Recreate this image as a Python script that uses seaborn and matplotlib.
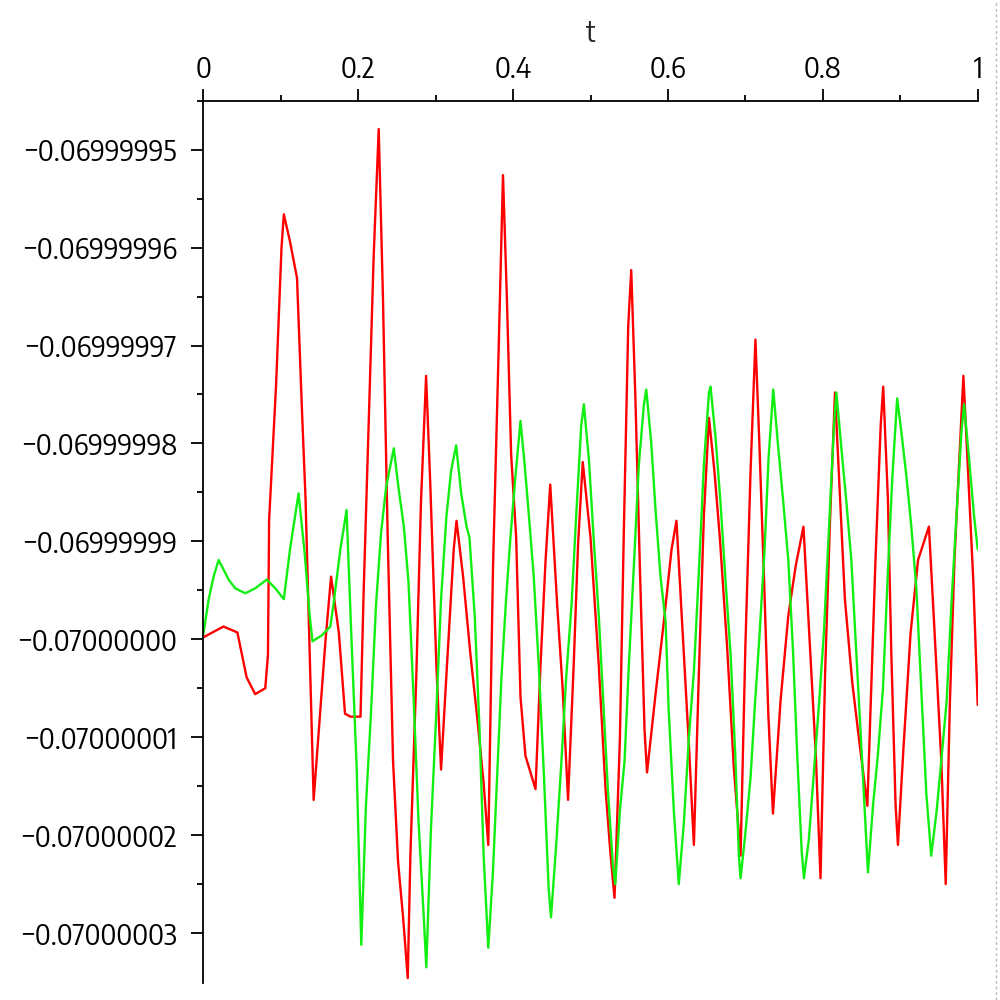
import numpy as np
import pandas as pd
import matplotlib
matplotlib.use("Agg")
import matplotlib.pyplot as plt
import matplotlib.ticker as mticker
from matplotlib import font_manager
from matplotlib.lines import Line2D
import seaborn as sns

# values are read as offsets from BASE, in units of SCALE
BASE = -0.07
SCALE = 1e-8

red_t = [0.0, 0.026, 0.044, 0.056, 0.067, 0.080, 0.0835, 0.085, 0.094, 0.101, 0.104, 0.112, 0.121, 0.1275, 0.132, 0.138, 0.1425, 0.150, 0.158, 0.165,
         0.175, 0.183, 0.190, 0.203, 0.207, 0.2136, 0.220, 0.2265, 0.232, 0.238, 0.245, 0.2515, 0.258, 0.264, 0.2674, 0.275, 0.281, 0.2877, 0.293, 0.301, 0.307, 0.315, 0.3234, 0.327, 0.3355,
         0.345, 0.3536, 0.362, 0.368, 0.374, 0.3816, 0.387, 0.392, 0.3975, 0.404, 0.4096, 0.416, 0.429, 0.4354, 0.442, 0.448, 0.457, 0.464, 0.471, 0.4785, 0.484, 0.490, 0.500, 0.5107,
         0.5194, 0.526, 0.531, 0.538, 0.543, 0.5487, 0.5526, 0.558, 0.5637, 0.5698, 0.573, 0.584, 0.5947, 0.6047, 0.611, 0.6206, 0.627, 0.6335, 0.640, 0.6464, 0.653, 0.660, 0.667, 0.6766, 0.685,
         0.6938, 0.700, 0.7067, 0.713, 0.718, 0.724, 0.7296, 0.7356, 0.7455, 0.7554, 0.765, 0.775, 0.784, 0.791, 0.797, 0.803, 0.809, 0.8157, 0.822, 0.8285, 0.838, 0.8475, 0.8575,
         0.862, 0.868, 0.8747, 0.878, 0.884, 0.8885, 0.894, 0.897, 0.904, 0.9134, 0.923, 0.937, 0.9436, 0.953, 0.9587, 0.964, 0.970, 0.9815, 0.9875, 0.9944, 1.0]
red_off = [0.02, 0.13, 0.07, -0.39, -0.56, -0.50, -0.16, 1.22, 2.60, 4.00, 4.34, 4.06, 3.69, 2.32, 1.44, -0.33, -1.64, -0.84, 0.01, 0.64,
           0.07, -0.76, -0.79, -0.79, 0.47, 2.21, 3.91, 5.21, 3.49, 1.09, -1.24, -2.27, -2.84, -3.46, -2.21, -0.39, 1.38, 2.69, 1.61, -0.27, -1.33, -0.22, 0.92, 1.21, 0.64,
           -0.16, -0.79, -1.47, -2.10, 0.70, 3.03, 4.74, 3.49, 1.89, 1.04, -0.59, -1.19, -1.53, -0.27, 0.81, 1.58, 0.35, -0.50, -1.64, -0.22, 0.98, 1.81, 1.04, -0.27,
           -1.53, -2.21, -2.64, -1.01, 1.09, 3.20, 3.77, 2.46, 0.75, -0.93, -1.36, -0.56, 0.18, 0.92, 1.21, -0.16, -1.07, -2.10, -0.33, 1.26, 2.26, 1.72, 1.04, -0.10, -1.30,
           -2.21, -0.07, 1.72, 3.06, 2.01, 0.64, -0.76, -1.78, -0.62, 0.24, 0.75, 1.15, -0.16, -1.19, -2.44, -0.33, 1.15, 2.52, 1.49, 0.41, -0.44, -1.07, -1.70,
           -0.62, 0.81, 2.18, 2.58, 1.44, -0.16, -1.70, -2.10, -1.13, 0.07, 0.81, 1.15, 0.18, -1.24, -2.50, -0.67, 0.81, 2.69, 1.72, 0.58, -0.67]

green_t = [0.0, 0.007, 0.0133, 0.0198, 0.0327, 0.0413, 0.0543, 0.067, 0.082, 0.093, 0.104, 0.112, 0.123, 0.131, 0.1374, 0.141, 0.153, 0.164,
           0.168, 0.177, 0.185, 0.191, 0.198, 0.202, 0.204, 0.210, 0.2167, 0.223, 0.2296, 0.236, 0.246, 0.252, 0.259, 0.265, 0.2717, 0.278, 0.2847, 0.288,
           0.294, 0.301, 0.307, 0.314, 0.320, 0.3265, 0.333, 0.340,
           0.3437, 0.3505, 0.3566, 0.362, 0.368, 0.374, 0.3794, 0.385, 0.391, 0.3966, 0.403, 0.4096, 0.415, 0.421, 0.4267, 0.4332, 0.4397, 0.446, 0.449, 0.4557,
           0.4625, 0.4686, 0.4755, 0.4815, 0.488, 0.4914, 0.498, 0.504, 0.5107,
           0.5164, 0.5224, 0.529, 0.532, 0.538, 0.544, 0.5495, 0.556, 0.5624, 0.569, 0.572, 0.5784, 0.584, 0.5904, 0.597, 0.601, 0.6076, 0.614, 0.6206, 0.627,
           0.6335, 0.640, 0.6464, 0.653, 0.655, 0.6615, 0.668, 0.674, 0.681, 0.687,
           0.6916, 0.6938, 0.700, 0.7067, 0.7123, 0.718, 0.7248, 0.730, 0.736, 0.7425, 0.7485, 0.7554, 0.7614, 0.767, 0.7726, 0.7756, 0.782, 0.7885, 0.795, 0.8014,
           0.808, 0.8144, 0.8175, 0.824, 0.830, 0.8368, 0.843, 0.850, 0.856,
           0.8583, 0.8648, 0.871, 0.8777, 0.8834, 0.8898, 0.896, 0.9014, 0.908, 0.9143, 0.9208, 0.927, 0.9337, 0.940, 0.947, 0.953, 0.960, 0.966, 0.973, 0.979,
           0.9824, 0.989, 0.9953, 1.0]
green_off = [0.05, 0.41, 0.64, 0.81, 0.61, 0.52, 0.47, 0.52, 0.61, 0.52, 0.41, 0.92, 1.49, 0.87, 0.24, -0.02, 0.04, 0.13,
             0.35, 0.92, 1.32, 0.07, -1.30, -2.50, -3.12, -1.70, -0.73, 0.35, 1.09, 1.55, 1.95, 1.55, 1.15, 0.58, -0.62, -1.87, -2.84, -3.35,
             -1.93, -0.73, 0.41, 1.26, 1.72, 1.98, 1.49, 1.15,
             1.04, 0.24, -0.90, -2.21, -3.15, -2.38, -1.41, -0.39, 0.41, 1.04, 1.66, 2.23, 1.78, 1.21, 0.64, -0.27, -1.36, -2.55, -2.84, -2.10,
             -1.24, -0.39, 0.35, 1.26, 2.18, 2.40, 1.83, 1.04, 0.24,
             -0.62, -1.53, -2.32, -2.50, -1.75, -1.24, -0.27, 0.75, 1.78, 2.40, 2.55, 2.01, 1.32, 0.64, 0.18, -0.73, -1.75, -2.50, -1.87, -1.01,
             -0.33, 0.70, 1.78, 2.52, 2.58, 2.06, 1.38, 0.64, -0.16, -1.19,
             -2.21, -2.44, -1.98, -1.41, -0.67, 0.01, 0.92, 1.86, 2.55, 1.95, 1.44, 0.81, -0.10, -1.19, -2.15, -2.44, -2.04, -1.36, -0.67, 0.07,
             1.15, 2.18, 2.52, 1.95, 1.44, 0.81, -0.10, -1.13, -2.04,
             -2.38, -1.70, -1.19, -0.50, 0.58, 1.66, 2.46, 2.12, 1.66, 1.15, 0.52, -0.50, -1.58, -2.21, -1.75, -1.24, -0.62, 0.35, 1.32, 2.12,
             2.40, 1.83, 1.26, 0.92]

x_ticks = [0, 0.2, 0.4, 0.6, 0.8, 1]
x_ticklabels = ["0", "0.2", "0.4", "0.6", "0.8", "1"]
y_tick_offsets = [-3, -2, -1, 0, 1, 2, 3, 4, 5]

sns.set_theme(style="white")

# prefer a narrow sans face (Maple's screen font is tall and narrow)
font, fsize = "Liberation Sans", 17
for f in font_manager.fontManager.ttflist:
    if ("Narrow" in f.name or "Condensed" in f.name) and "Sans" in f.name:
        font, fsize = f.name, 21
        break
plt.rcParams["font.family"] = [font, "DejaVu Sans"]

df = pd.concat([
    pd.DataFrame({"t": red_t, "y": BASE + np.array(red_off) * SCALE, "curve": "red"}),
    pd.DataFrame({"t": green_t, "y": BASE + np.array(green_off) * SCALE, "curve": "green"}),
], ignore_index=True)

fig = plt.figure(figsize=(10, 10), dpi=100)
ax = fig.add_axes([0.2033, 0.017, 0.7744, 0.8823])

sns.lineplot(data=df, x="t", y="y", hue="curve", palette={"red": "#ff0000", "green": "#11ee11"},
             estimator=None, sort=False, linewidth=1.7, legend=False, ax=ax)

ax.set_xlim(0, 1)
ax.set_ylim(BASE - 3.51 * SCALE, BASE + 5.30 * SCALE)

# Maple-style axes: top and left only
for side in ("bottom", "right"):
    ax.spines[side].set_visible(False)
for side in ("top", "left"):
    ax.spines[side].set_color("black")
    ax.spines[side].set_linewidth(1.3)

ax.xaxis.tick_top()
ax.xaxis.set_label_position("top")
ax.set_xticks(x_ticks)
ax.set_xticklabels(x_ticklabels)
ax.xaxis.set_minor_locator(mticker.MultipleLocator(0.1))

y_ticks = [BASE + k * SCALE for k in y_tick_offsets]
ax.set_yticks(y_ticks)
ax.set_yticklabels([f"{v:.8f}".replace("-", "\u2212") for v in y_ticks])
ax.set_yticks([BASE + (k + 0.5) * SCALE for k in y_tick_offsets], minor=True)

ax.tick_params(axis="both", which="major", direction="out", length=9, width=1.3,
               color="black", labelsize=fsize, labelcolor="black")
ax.tick_params(axis="both", which="minor", direction="out", length=4.5, width=1.3, color="black")
ax.tick_params(axis="x", which="both", top=True, bottom=False, pad=3)
ax.tick_params(axis="y", which="both", left=True, right=False, pad=10)

ax.set_xlabel("t", fontsize=fsize, labelpad=9)
ax.set_ylabel("")
ax.grid(False)

# faint dotted frame edge on the right
fig.add_artist(Line2D([0.996, 0.996], [0, 1], transform=fig.transFigure,
                      color="#bbbbbb", linewidth=1, linestyle=(0, (2, 2))))

fig.savefig("out.png", dpi=100)
